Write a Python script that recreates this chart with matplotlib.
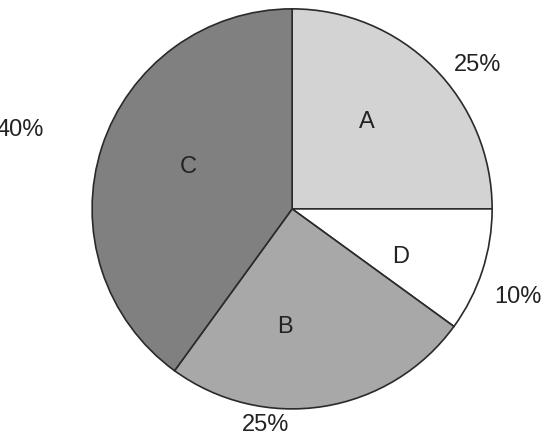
import matplotlib.pyplot as plt

labels = ["A", "D", "B", "C"]
shares = [25, 10, 25, 40]
colors = ["#d3d3d3", "#ffffff", "#a8a8a8", "#808080"]
pct_text = ["25%", "10%", "25%", "40%"]
# positions of labels (in pie-radius units)
inner_pos = [(0.375, 0.44), (0.54, -0.235), (-0.035, -0.585), (-0.52, 0.215)]
outer_pos = [(0.925, 0.725), (1.13, -0.435), (-0.135, -1.075), (-1.36, 0.40)]

plt.rcParams['font.family'] = ['Liberation Sans', 'DejaVu Sans']
fig = plt.figure(figsize=(5.45, 4.35), dpi=100)
ax = fig.add_axes([0.169, 0.0575, 0.734, 0.92])
ax.pie(shares, colors=colors, startangle=90, counterclock=False, radius=1,
       wedgeprops=dict(edgecolor="#2a2a2a", linewidth=1.2))
for lab, p in zip(labels, inner_pos):
    ax.text(p[0], p[1], lab, ha="center", va="center", fontsize=17, color="#222222")
for t, p in zip(pct_text, outer_pos):
    ax.text(p[0], p[1], t, ha="center", va="center", fontsize=17, color="#222222", clip_on=False)
ax.set_xlim(-1, 1)
ax.set_ylim(-1, 1)
ax.set_aspect("equal")
ax.axis("off")
fig.savefig("out.png", dpi=100)
